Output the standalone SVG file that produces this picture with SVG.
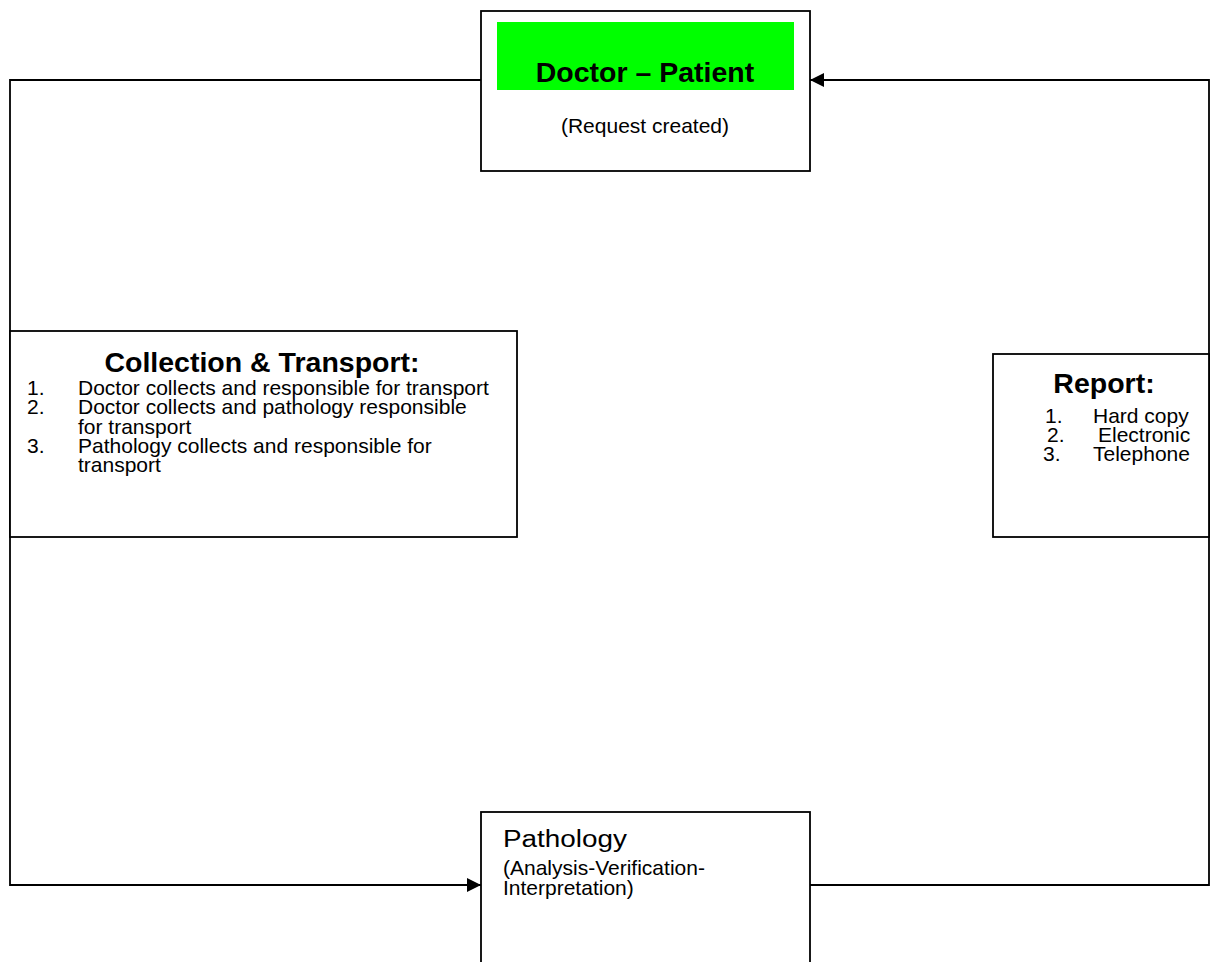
<svg xmlns="http://www.w3.org/2000/svg" width="1210" height="962" viewBox="0 0 1210 962">
<style>
text{font-family:"Liberation Sans",Arial,sans-serif;fill:#000}
.box{fill:#fff;stroke:#000;stroke-width:1.8}
.conn{fill:none;stroke:#000;stroke-width:1.8}
.b{font-weight:bold;font-size:28.5px}
.t{font-size:21px}
</style>
<defs>
<marker id="arr" viewBox="0 0 14 14" refX="14" refY="7" markerWidth="14" markerHeight="14" markerUnits="userSpaceOnUse" orient="auto">
<path d="M0,0 L14,7 L0,14 Z" fill="#000"/>
</marker>
</defs>
<rect width="1210" height="962" fill="#fff"/>
<g id="connectors">
<path class="conn" d="M481,80 H10 V885 H481" marker-end="url(#arr)"/>
<path class="conn" d="M810,885 H1209 V80 H810" marker-end="url(#arr)"/>
</g>
<g id="doctor-patient">
<rect class="box" x="481" y="11" width="329" height="160"/>
<rect x="497" y="22" width="297" height="68" fill="#00ff00"/>
<text class="b" x="645" y="82" text-anchor="middle" font-size="29.3">Doctor – Patient</text>
<text class="t" x="645" y="133" text-anchor="middle">(Request created)</text>
</g>
<g id="collection-transport">
<rect class="box" x="10" y="331" width="507" height="206"/>
<text class="b" x="262" y="372" text-anchor="middle" font-size="30">Collection &amp; Transport:</text>
<text class="t" x="27" y="395">1.</text>
<text class="t" x="78" y="395">Doctor collects and responsible for transport</text>
<text class="t" x="27" y="414">2.</text>
<text class="t" x="78" y="414">Doctor collects and pathology responsible</text>
<text class="t" x="78" y="433.5">for transport</text>
<text class="t" x="27" y="453">3.</text>
<text class="t" x="78" y="453">Pathology collects and responsible for</text>
<text class="t" x="78" y="472">transport</text>
</g>
<g id="report">
<rect class="box" x="993" y="354" width="216" height="183"/>
<text class="b" x="1104" y="393" text-anchor="middle">Report:</text>
<text class="t" x="1045" y="423">1.</text>
<text class="t" x="1093" y="423">Hard copy</text>
<text class="t" x="1047" y="442">2.</text>
<text class="t" x="1098" y="442">Electronic</text>
<text class="t" x="1043" y="461">3.</text>
<text class="t" x="1093" y="461">Telephone</text>
</g>
<g id="pathology">
<rect class="box" x="481" y="812" width="329" height="170"/>
<text x="503" y="847" font-size="23" textLength="124" lengthAdjust="spacingAndGlyphs">Pathology</text>
<text class="t" x="503" y="875">(Analysis-Verification-</text>
<text class="t" x="503" y="895">Interpretation)</text>
</g>
</svg>
